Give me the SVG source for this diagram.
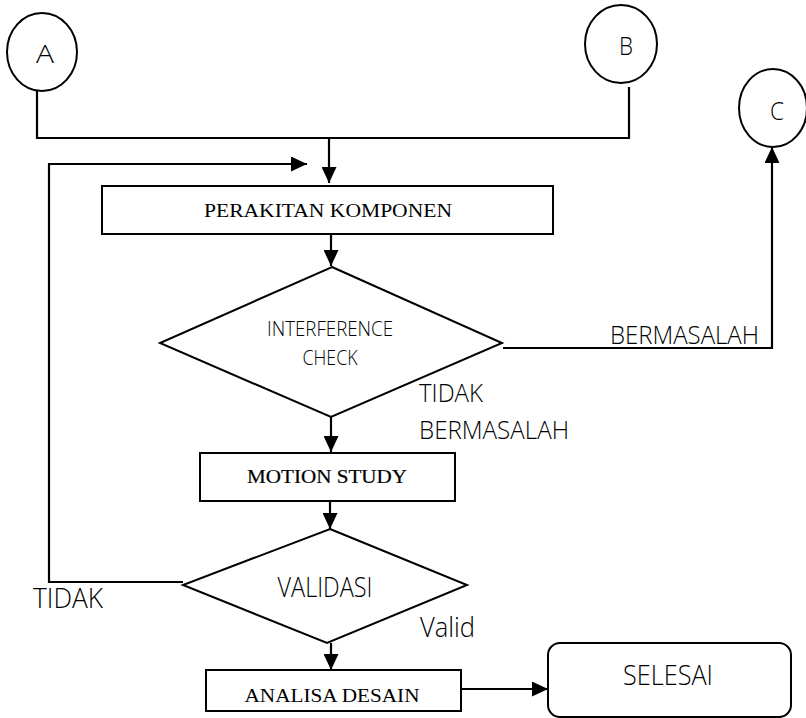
<svg xmlns="http://www.w3.org/2000/svg" width="806" height="718" viewBox="0 0 806 718">
<style>
.shape{fill:#fff;stroke:#000;stroke-width:2}
.conn{fill:none;stroke:#000;stroke-width:2.2}
.sans{font-family:"Open Sans","Liberation Sans","DejaVu Sans",sans-serif;font-weight:300;fill:#000}
.serif{font-family:"Liberation Serif","DejaVu Serif",serif;fill:#000}
</style>
<defs>
<marker id="ah" markerUnits="userSpaceOnUse" markerWidth="16" markerHeight="15" refX="16" refY="7.5" orient="auto">
<path d="M0,0 L16,7.5 L0,15 z" fill="#000"/>
</marker>
</defs>
<rect width="806" height="718" fill="#fff"/>
<g id="connectors">
<polyline class="conn" points="37,90 37,138 629,138 629,87"/>
<line class="conn" x1="329" y1="138" x2="329" y2="183" marker-end="url(#ah)"/>
<polyline class="conn" points="183,582 49,582 49,164 307,164" marker-end="url(#ah)"/>
<line class="conn" x1="331" y1="234" x2="331" y2="266" marker-end="url(#ah)"/>
<polyline class="conn" points="503,348 772,348 772,147" marker-end="url(#ah)"/>
<line class="conn" x1="331" y1="417" x2="331" y2="452" marker-end="url(#ah)"/>
<line class="conn" x1="330" y1="501" x2="330" y2="529" marker-end="url(#ah)"/>
<line class="conn" x1="331" y1="643" x2="331" y2="670" marker-end="url(#ah)"/>
<line class="conn" x1="461" y1="689" x2="548" y2="689" marker-end="url(#ah)"/>
</g>
<g id="nodeA">
<ellipse class="shape" cx="42" cy="52" rx="35" ry="39"/>
<text class="sans" x="45" y="63" font-size="26" text-anchor="middle" textLength="18" lengthAdjust="spacingAndGlyphs">A</text>
</g>
<g id="nodeB">
<ellipse class="shape" cx="621" cy="44" rx="36" ry="39"/>
<text class="sans" x="626" y="55" font-size="26" text-anchor="middle" textLength="14" lengthAdjust="spacingAndGlyphs">B</text>
</g>
<g id="nodeC">
<ellipse class="shape" cx="773" cy="108" rx="34" ry="39"/>
<text class="sans" x="777" y="120" font-size="26" text-anchor="middle" textLength="14" lengthAdjust="spacingAndGlyphs">C</text>
</g>
<g id="perakitan">
<rect class="shape" x="102" y="186" width="451" height="48"/>
<text class="serif" x="328" y="217" font-size="18" text-anchor="middle" textLength="248" lengthAdjust="spacingAndGlyphs">PERAKITAN KOMPONEN</text>
</g>
<g id="interference">
<polygon class="shape" points="332,267 502,343 331,417 160,343"/>
<text class="sans" x="330" y="336" font-size="20" text-anchor="middle" textLength="126" lengthAdjust="spacingAndGlyphs">INTERFERENCE</text>
<text class="sans" x="330" y="365" font-size="20" text-anchor="middle" textLength="55" lengthAdjust="spacingAndGlyphs">CHECK</text>
</g>
<g id="labels">
<text class="sans" x="610" y="344" font-size="25" textLength="149" lengthAdjust="spacingAndGlyphs">BERMASALAH</text>
<text class="sans" x="419" y="402" font-size="25" textLength="64" lengthAdjust="spacingAndGlyphs">TIDAK</text>
<text class="sans" x="419" y="439" font-size="25" textLength="150" lengthAdjust="spacingAndGlyphs">BERMASALAH</text>
<text class="sans" x="33" y="608" font-size="28" textLength="70" lengthAdjust="spacingAndGlyphs">TIDAK</text>
<text class="sans" x="420" y="637" font-size="28" textLength="55" lengthAdjust="spacingAndGlyphs">Valid</text>
</g>
<g id="motion">
<rect class="shape" x="200" y="453" width="255" height="48"/>
<text class="serif" x="327" y="483" font-size="18" text-anchor="middle" textLength="160" lengthAdjust="spacingAndGlyphs" stroke="#000" stroke-width="0.2">MOTION STUDY</text>
</g>
<g id="validasi">
<polygon class="shape" points="330,529 467,585 327,643 183,585"/>
<text class="sans" x="325" y="597" font-size="28" text-anchor="middle" textLength="95" lengthAdjust="spacingAndGlyphs">VALIDASI</text>
</g>
<g id="analisa">
<rect class="shape" x="206" y="670" width="255" height="41"/>
<text class="serif" x="332" y="702" font-size="18" text-anchor="middle" textLength="175" lengthAdjust="spacingAndGlyphs">ANALISA DESAIN</text>
</g>
<g id="selesai">
<rect class="shape" x="548" y="643" width="243" height="74" rx="12" ry="12"/>
<text class="sans" x="668" y="685" font-size="28" text-anchor="middle" textLength="90" lengthAdjust="spacingAndGlyphs">SELESAI</text>
</g>
</svg>
